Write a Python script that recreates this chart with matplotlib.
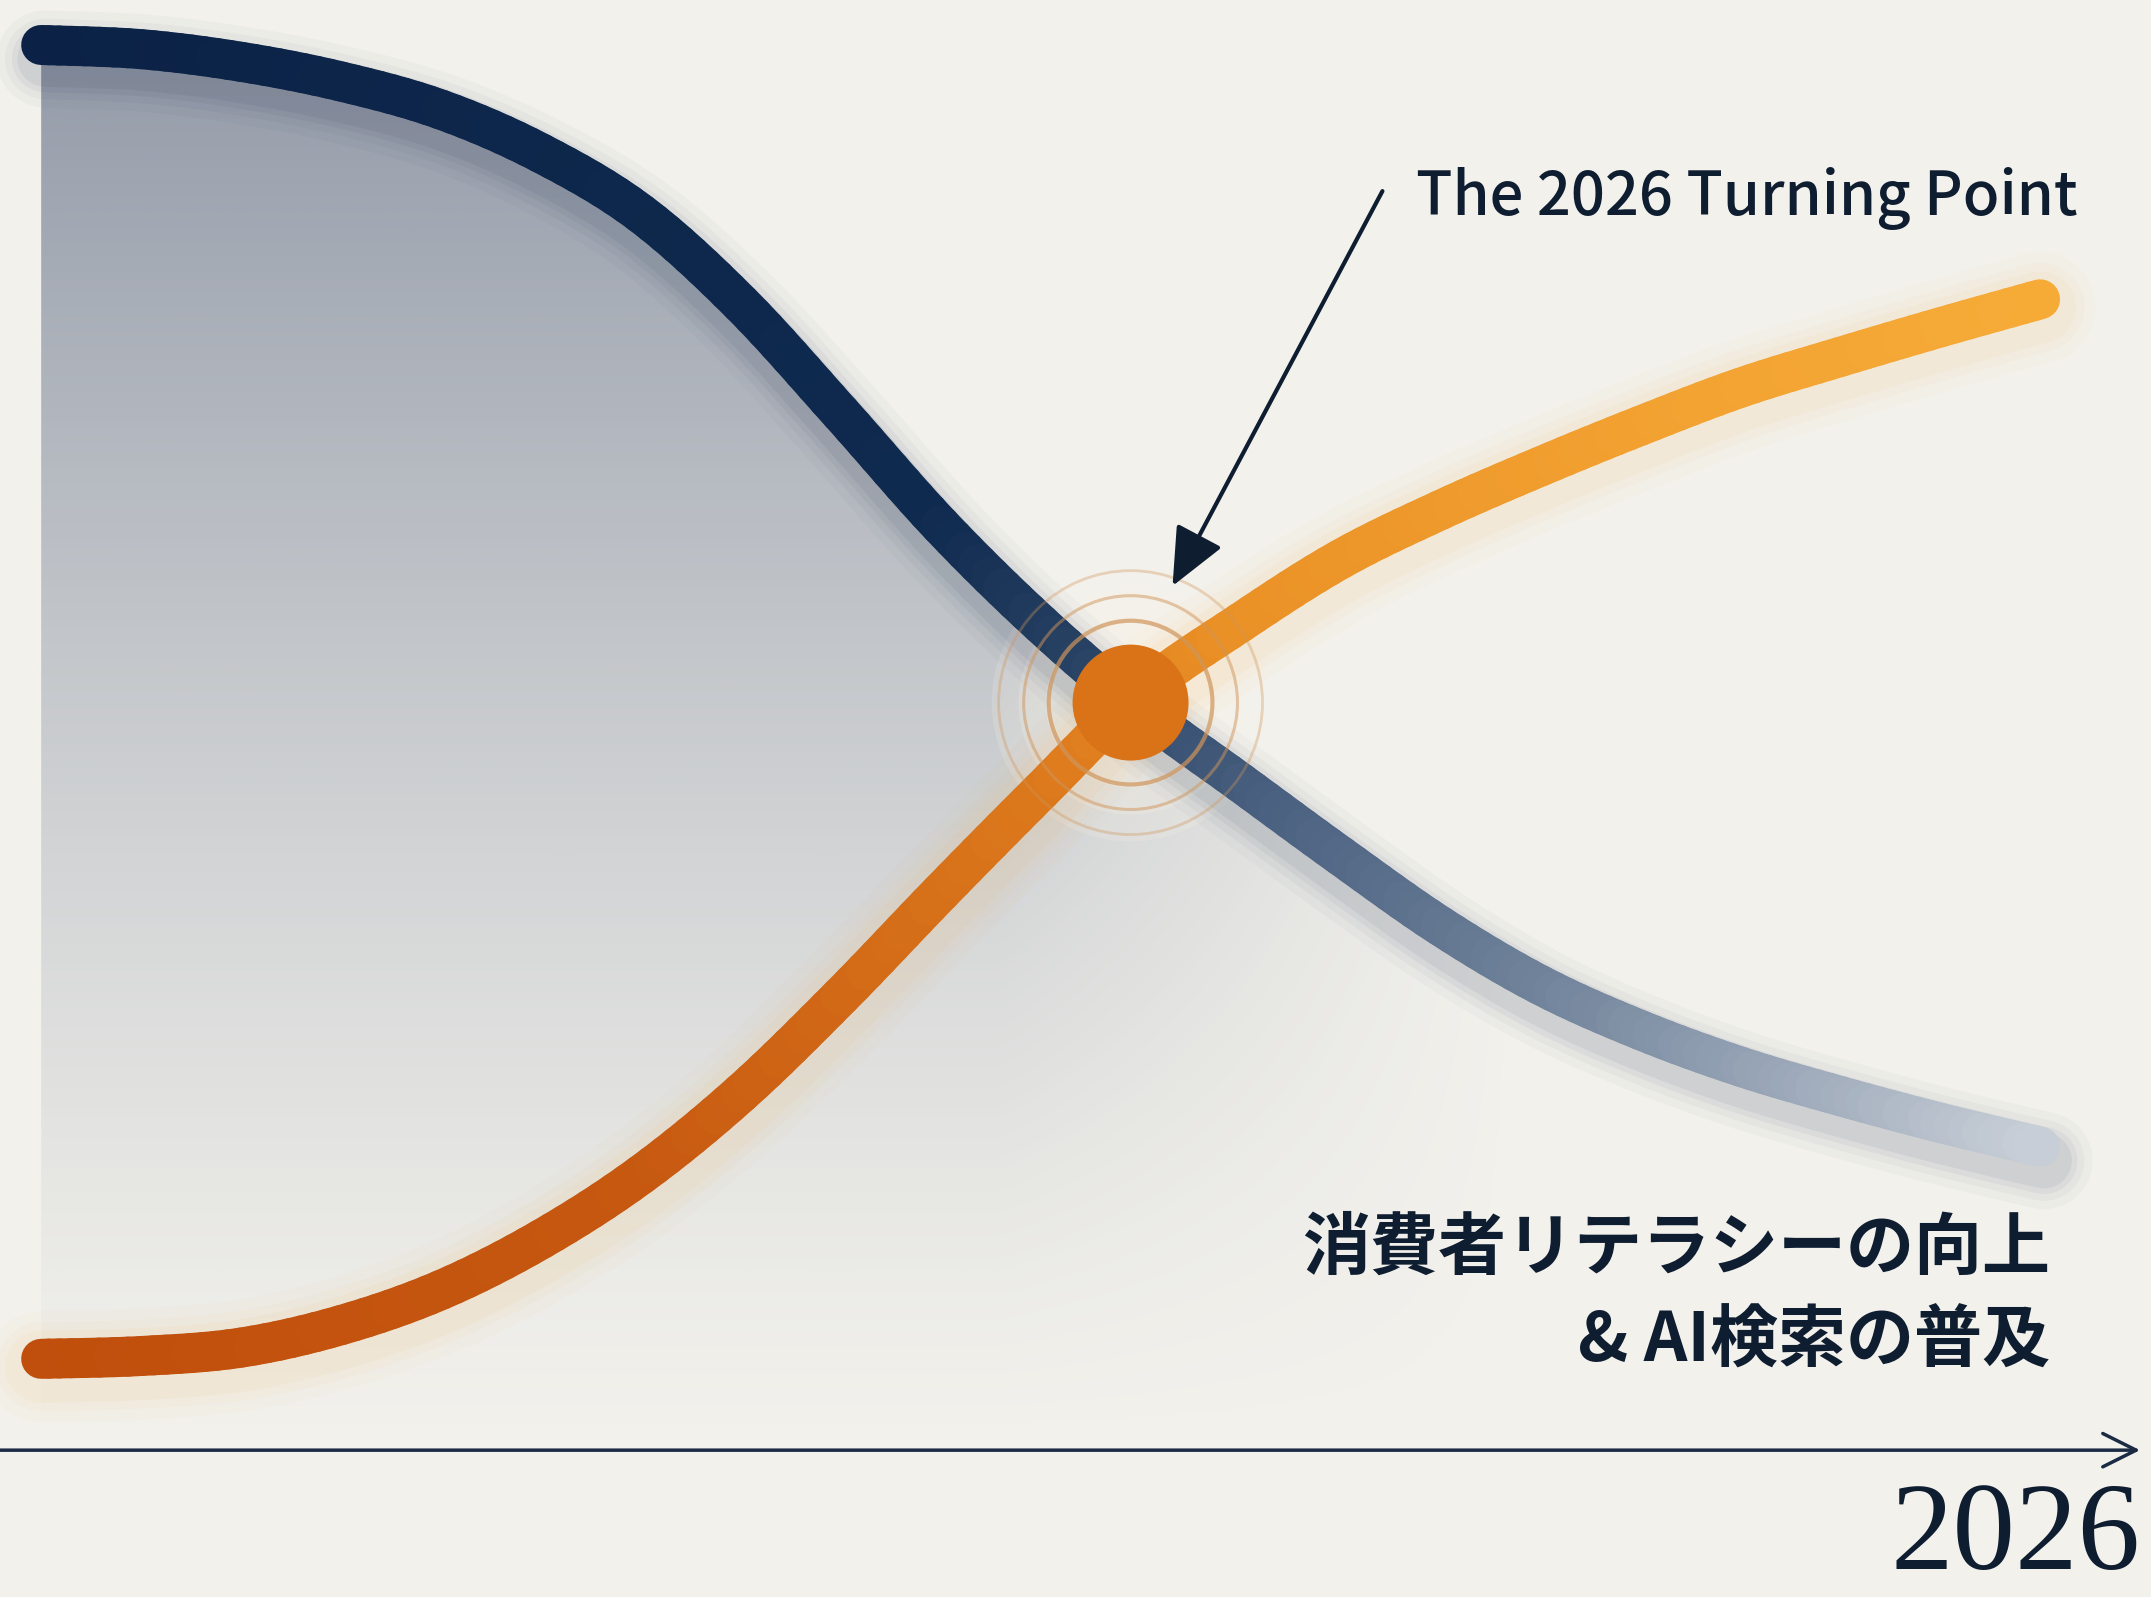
import numpy as np
import matplotlib
matplotlib.use("Agg")
import matplotlib.pyplot as plt
from matplotlib.colors import LinearSegmentedColormap, to_rgba
from matplotlib.path import Path
from matplotlib.patches import PathPatch
from matplotlib.transforms import offset_copy

# =========================
# 数据
# =========================
t = np.arange(0, 101, 5)  # 相对时间 (0 = 起点, 100 = 终点)
legacy = [100, 99.7, 98.8, 97.4, 95.4, 92.3, 88.0, 81.6, 73.8, 65.8, 58.8,
          52.7, 47.5, 42.3, 37.3, 33.1, 29.9, 27.3, 25.2, 23.3, 21.6]
ai_search = [6.5, 6.7, 7.3, 8.9, 11.4, 15.0, 19.6, 25.4, 32.3, 39.7, 46.9,
             53.9, 58.9, 63.4, 66.9, 70.0, 72.9, 75.6, 77.8, 79.9, 81.9]
turn_x, turn_y = 54.5, 53.2

title_txt = "The 2026 Turning Point"
label_line1 = "消費者リテラシーの向上"
label_line2 = "& AI検索の普及"
year_txt = "2026"

# =========================
# 样式
# =========================
BG = "#f2f1ec"
INK = "#0f1d31"
navy_stops = [(0.0, "#0b2246"), (0.45, "#0f2a4f"), (0.53, "#2a4466"),
              (0.62, "#4a6080"), (0.75, "#6e8199"), (0.88, "#9ca8b9"),
              (1.0, "#c7ced7")]
orange_stops = [(0.0, "#c04e0c"), (0.3, "#c65810"), (0.5, "#dc781c"),
                (0.6, "#ea9126"), (0.8, "#f2a131"), (1.0, "#f6ab37")]

plt.rcParams['font.family'] = ['Noto Sans CJK JP', 'DejaVu Sans']

fig = plt.figure(figsize=(21.51, 15.97), dpi=100, facecolor=BG)
ax = fig.add_axes([0, 0, 1, 1])
ax.set_facecolor(BG)
ax.axis('off')


# =========================
# 平滑曲线 (Catmull-Rom -> 三次贝塞尔)
# =========================
def bezier_pieces(x, y, n_sub=1):
    P = np.column_stack([x, y]).astype(float)
    E = np.vstack([P[0], P, P[-1]])
    pieces = []
    for i in range(len(P) - 1):
        p0, p1, p2, p3 = E[i], E[i + 1], E[i + 2], E[i + 3]
        c1 = p1 + (p2 - p0) / 6
        c2 = p2 - (p3 - p1) / 6

        def B(s):
            return ((1 - s) ** 3) * p1 + 3 * ((1 - s) ** 2) * s * c1 \
                + 3 * (1 - s) * s ** 2 * c2 + s ** 3 * p2

        def dB(s):
            return 3 * ((1 - s) ** 2) * (c1 - p1) + 6 * (1 - s) * s * (c2 - c1) \
                + 3 * s ** 2 * (p2 - c2)

        for k in range(n_sub):
            s0, s1 = k / n_sub, (k + 1) / n_sub
            h = (s1 - s0) / 3
            b0, b1 = B(s0), B(s1)
            pieces.append(np.array([b0, b0 + h * dB(s0), b1 - h * dB(s1), b1]))
    return pieces


def full_path(x, y):
    pcs = bezier_pieces(x, y)
    verts = [pcs[0][0]]
    codes = [Path.MOVETO]
    for p in pcs:
        verts += [p[1], p[2], p[3]]
        codes += [Path.CURVE4] * 3
    return np.array(verts), codes


def gradient_curve(x, y, stops, lw, z):
    cmap = LinearSegmentedColormap.from_list("g", stops)
    x0, x1 = x[0], x[-1]
    for p in bezier_pieces(x, y, n_sub=8):
        c = cmap(((p[0][0] + p[3][0]) / 2 - x0) / (x1 - x0))
        pp = PathPatch(Path(p, [Path.MOVETO, Path.CURVE4, Path.CURVE4, Path.CURVE4]),
                       fill=False, edgecolor=c, lw=lw, zorder=z)
        pp.set_capstyle('round')
        ax.add_patch(pp)


# ========= 渐变填充 =========
v, c = full_path(t, legacy)
fill_path = Path(np.vstack([v, [[t[-1], 0], [t[0], 0], v[0]]]),
                 c + [Path.LINETO, Path.LINETO, Path.CLOSEPOLY])
gy = np.linspace(0, 1, 400)[:, None]
gx = np.linspace(0, 1, 400)[None, :]
alpha = 0.62 * gy ** 1.25 * np.clip((0.74 - gx) / 0.26, 0, 1)
rgba = np.zeros((400, 400, 4))
rgba[..., 0], rgba[..., 1], rgba[..., 2] = 0.35, 0.40, 0.50
rgba[..., 3] = alpha
im = ax.imshow(rgba, extent=(0, 100, 0, 100), origin='lower',
               aspect='auto', zorder=1, interpolation='bilinear')
im.set_clip_path(fill_path, ax.transData)

# ========= 转折点光晕 =========
for s, a in [(40000, 0.18), (26000, 0.22), (15000, 0.25)]:
    ax.scatter([turn_x], [turn_y], s=s, color="#fbf4e8", alpha=a,
               edgecolors='none', zorder=1.5)

# ========= 阴影 / 光晕 =========
shadow_tr = offset_copy(ax.transData, fig=fig, x=4, y=-14, units='dots')
for w, a in [(70, 0.025), (58, 0.035), (48, 0.045), (40, 0.055)]:
    pp = PathPatch(Path(v, c), fill=False, edgecolor=(0.05, 0.12, 0.25, a),
                   lw=w, transform=shadow_tr, zorder=2)
    pp.set_capstyle('round')
    ax.add_patch(pp)

vo, co = full_path(t, ai_search)
glow_tr = offset_copy(ax.transData, fig=fig, x=0, y=-8, units='dots')
for w, a in [(80, 0.03), (64, 0.045), (52, 0.06)]:
    pp = PathPatch(Path(vo, co), fill=False, edgecolor=to_rgba("#f7b24e", a),
                   lw=w, transform=glow_tr, zorder=2)
    pp.set_capstyle('round')
    ax.add_patch(pp)

# ========= 主线 =========
gradient_curve(t, legacy, navy_stops, 28.8, 3)
gradient_curve(t, ai_search, orange_stops, 28.8, 4)

# ========= 转折点 =========
for s, a, lw in [(36100, 0.35, 2.0), (23700, 0.5, 2.2), (13900, 0.7, 3.0)]:
    ax.scatter([turn_x], [turn_y], s=s, facecolors='none',
               edgecolors=to_rgba("#cf955a", a), linewidths=lw, zorder=6)
ax.scatter([turn_x], [turn_y], s=6970, color="#da7217",
           edgecolors='none', zorder=7)

# ========= 注释 =========
ax.text(68.8, 87.9, title_txt, ha='left', va='baseline', fontsize=43,
        fontweight='medium', color=INK, zorder=8)
ax.annotate('', xy=(56.6, 61.5), xytext=(67.1, 89.6),
            arrowprops=dict(arrowstyle='-|>,head_length=1.8,head_width=0.8',
                            mutation_scale=20, lw=3.0, color=INK,
                            shrinkA=0, shrinkB=0),
            zorder=8)

ax.text(100.5, 14.3, label_line1, ha='right', va='center', fontsize=49,
        fontweight='bold', color=INK, zorder=8)
ax.text(100.5, 7.7, label_line2, ha='right', va='center', fontsize=49,
        fontweight='bold', color=INK, zorder=8)

# ========= 时间轴 =========
ax.annotate('', xy=(105.0, 0), xytext=(-2.06, 0),
            arrowprops=dict(arrowstyle='->,head_length=1.2,head_width=0.6',
                            mutation_scale=20, lw=2.5, color="#1b2b44",
                            shrinkA=0, shrinkB=0), zorder=8)
ax.text(105.0, -10.4, year_txt, ha='right', va='bottom', fontsize=90,
        family=['Liberation Serif', 'DejaVu Serif'], color=INK, zorder=8)

ax.set_xlim(-2.06, 105.55)
ax.set_ylim(-10.45, 103.2)

fig.savefig("out.png", dpi=100, facecolor=BG)
plt.close(fig)
